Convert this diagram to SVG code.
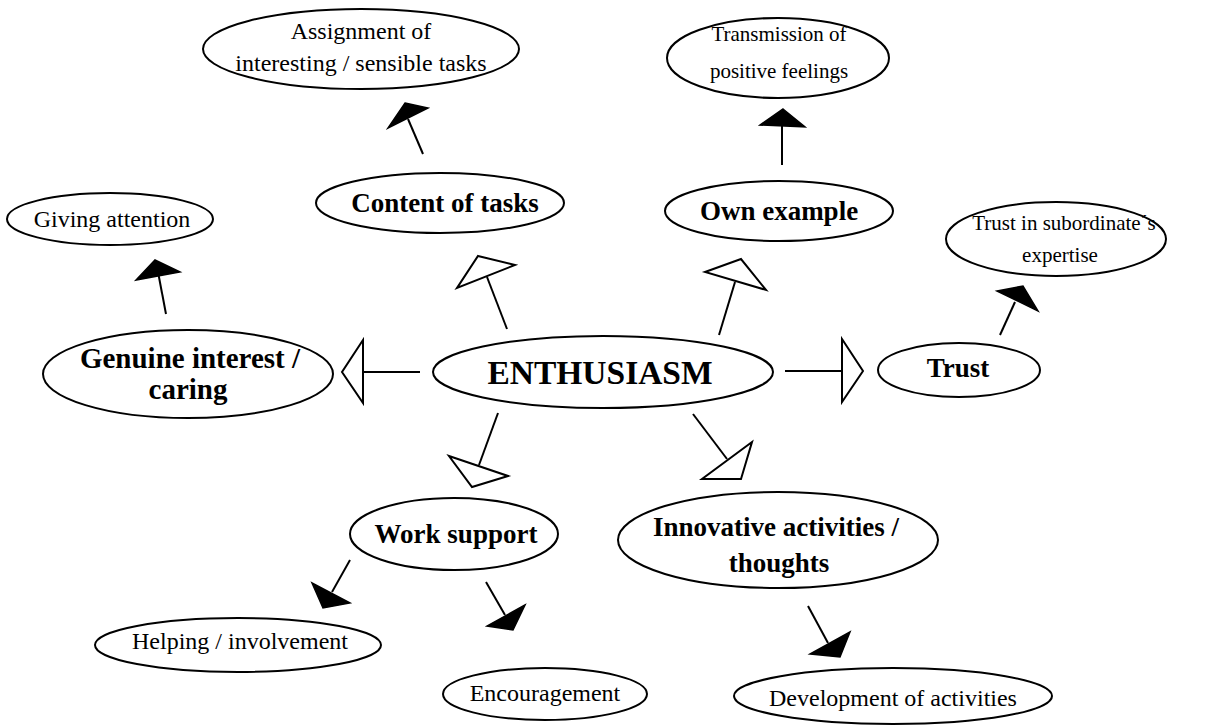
<svg xmlns="http://www.w3.org/2000/svg" width="1206" height="726" viewBox="0 0 1206 726">
<style>
.n{fill:#fff;stroke:#000;stroke-width:2}
.t{font-family:"Liberation Serif","Times New Roman",serif;font-size:24px;fill:#000;text-anchor:middle}
.s{font-size:21px}
.b{font-weight:bold;font-size:27px}
.big{font-size:33.5px}
.l{stroke:#000;stroke-width:2;fill:none}
.h{fill:#fff;stroke:#000;stroke-width:2;stroke-linejoin:miter}
.f{fill:#000;stroke:#000;stroke-width:1.5}
</style>
<rect width="1206" height="726" fill="#fff"/>
<g id="assignment"><ellipse class="n" cx="361" cy="49" rx="158" ry="40"/><text class="t" x="361" y="39">Assignment of</text><text class="t" x="361" y="71">interesting / sensible tasks</text></g>
<g id="transmission"><ellipse class="n" cx="778" cy="58" rx="111" ry="40"/><text class="t s" x="779" y="41">Transmission of</text><text class="t s" x="779" y="78">positive feelings</text></g>
<g id="content"><ellipse class="n" cx="440" cy="203" rx="124" ry="30"/><text class="t b" x="445" y="212">Content of tasks</text></g>
<g id="own"><ellipse class="n" cx="779" cy="211" rx="114" ry="30"/><text class="t b" x="779" y="220">Own example</text></g>
<g id="giving"><ellipse class="n" cx="110" cy="219" rx="103" ry="26"/><text class="t" x="112" y="227">Giving attention</text></g>
<g id="trustin"><ellipse class="n" cx="1056" cy="239" rx="110" ry="37"/><text class="t s" x="1064" y="230">Trust in subordinate´s</text><text class="t s" x="1060" y="262">expertise</text></g>
<g id="genuine"><ellipse class="n" cx="188" cy="374" rx="145" ry="44"/><text class="t b" style="font-size:29px" x="190" y="368">Genuine interest /</text><text class="t b" style="font-size:29px" x="188" y="399">caring</text></g>
<g id="enthusiasm"><ellipse class="n" cx="603" cy="372" rx="170" ry="36"/><text class="t b big" x="600" y="384">ENTHUSIASM</text></g>
<g id="trust"><ellipse class="n" cx="959" cy="370" rx="81" ry="27"/><text class="t b" x="958" y="377">Trust</text></g>
<g id="work"><ellipse class="n" cx="454" cy="534" rx="104" ry="36"/><text class="t b" x="456" y="543">Work support</text></g>
<g id="innovative"><ellipse class="n" cx="778" cy="540" rx="160" ry="48"/><text class="t b" x="776" y="536">Innovative activities /</text><text class="t b" x="779" y="572">thoughts</text></g>
<g id="helping"><ellipse class="n" cx="238" cy="645" rx="143" ry="27"/><text class="t" x="240" y="649">Helping / involvement</text></g>
<g id="encouragement"><ellipse class="n" cx="545" cy="694" rx="102" ry="26"/><text class="t" x="545" y="701">Encouragement</text></g>
<g id="development"><ellipse class="n" cx="893" cy="696" rx="159" ry="28"/><text class="t" x="893" y="706">Development of activities</text></g>
<g id="connectors">
<line class="l" x1="507" y1="329" x2="487" y2="277"/><polygon class="h" points="478,256 515,265 457,288"/>
<line class="l" x1="420" y1="372" x2="363" y2="372"/><polygon class="h" points="363,340 342,372 363,403"/>
<line class="l" x1="719" y1="335" x2="735" y2="282"/><polygon class="h" points="705,272 741,259 766,290"/>
<line class="l" x1="785" y1="371" x2="842" y2="371"/><polygon class="h" points="842,339 863,371 842,402"/>
<line class="l" x1="498" y1="413" x2="479" y2="465"/><polygon class="h" points="449,456 508,476 472,487"/>
<line class="l" x1="693" y1="414" x2="727" y2="459"/><polygon class="h" points="752,442 702,479 741,479"/>
<line class="l" x1="423" y1="154" x2="408" y2="119"/><polygon class="f" points="405,103 428,108 388,128"/>
<line class="l" x1="782" y1="165" x2="782" y2="125"/><polygon class="f" points="783,109 805,127 760,125"/>
<line class="l" x1="166" y1="314" x2="158" y2="272"/><polygon class="f" points="155,260 180,272 136,280"/>
<line class="l" x1="1000" y1="335" x2="1015" y2="302"/><polygon class="f" points="997,291 1023,286 1038,311"/>
<line class="l" x1="350" y1="560" x2="332" y2="592"/><polygon class="f" points="312,583 350,603 323,608"/>
<line class="l" x1="486" y1="582" x2="505" y2="615"/><polygon class="f" points="525,605 487,626 513,630"/>
<line class="l" x1="808" y1="606" x2="828" y2="643"/><polygon class="f" points="850,632 810,654 840,657"/>
</g>
</svg>
